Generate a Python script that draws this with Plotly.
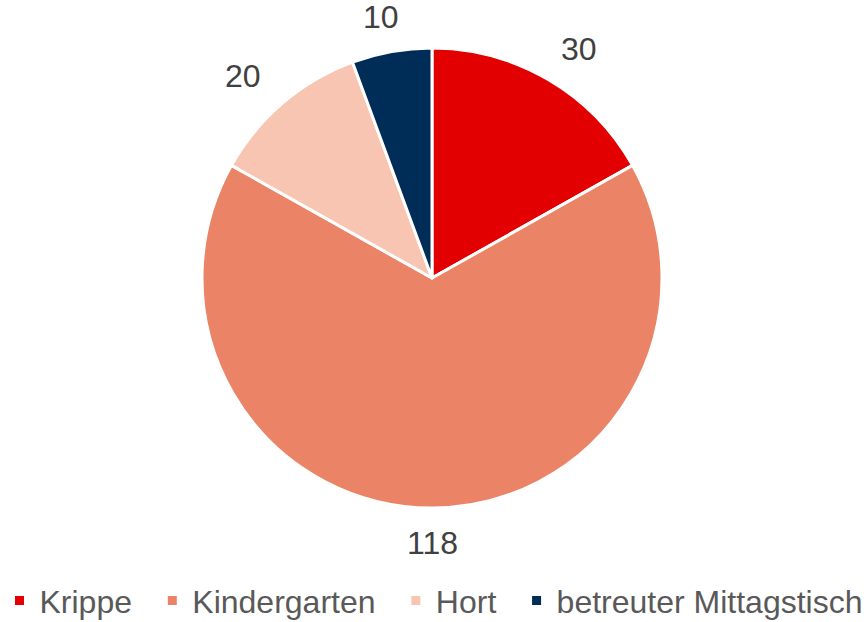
import math
import plotly.graph_objects as go

categories = ["Krippe", "Kindergarten", "Hort", "betreuter Mittagstisch"]
values = [30, 118, 20, 10]
colors = ["#E30000", "#EB8466", "#F8C5B3", "#002D57"]

W, H = 867, 622
cx, cy, r = 432, 278, 230
label_ax, label_ay = 292, 265   # label ellipse semi-axes (px) around the pie
FONT = "Liberation Sans, Arial, sans-serif"

# legend labels padded with non-breaking/thin spaces to mimic wider spacing
legend_labels = [c + ("\u00a0\u2009" if i < len(categories) - 1 else "") for i, c in enumerate(categories)]

fig = go.Figure(go.Pie(
    labels=legend_labels,
    values=values,
    customdata=categories,
    sort=False,
    direction="clockwise",
    rotation=0,
    marker=dict(colors=colors, line=dict(color="white", width=3)),
    textinfo="none",
    domain=dict(x=[(cx - r) / W, (cx + r) / W], y=[1 - (cy + r) / H, 1 - (cy - r) / H]),
    hovertemplate="%{customdata}: %{value}<extra></extra>",
))

# value labels outside the slices, placed at the mid-angle of each slice
total = sum(values)
cum = 0
for v in values:
    mid = (cum + v / 2) / total * 2 * math.pi
    cum += v
    px = cx + label_ax * math.sin(mid)
    py = cy - label_ay * math.cos(mid)
    fig.add_annotation(x=px / W, y=1 - py / H, xref="paper", yref="paper",
                       text=str(v), showarrow=False, xanchor="center", yanchor="middle",
                       font=dict(family=FONT, size=32, color="#404040"))

fig.update_layout(
    width=W, height=H,
    margin=dict(l=0, r=0, t=0, b=0, autoexpand=False),
    paper_bgcolor="white",
    plot_bgcolor="white",
    font=dict(family=FONT, size=32, color="#595959"),
    showlegend=True,
    legend=dict(orientation="h", x=0.5, xanchor="center", y=-0.01, yanchor="bottom",
                font=dict(family=FONT, size=32, color="#595959"), itemwidth=30,
                bgcolor="rgba(0,0,0,0)"),
)

fig.write_html("out.html", config={"displayModeBar": False},
               post_script="document.body.style.margin='0px';")
